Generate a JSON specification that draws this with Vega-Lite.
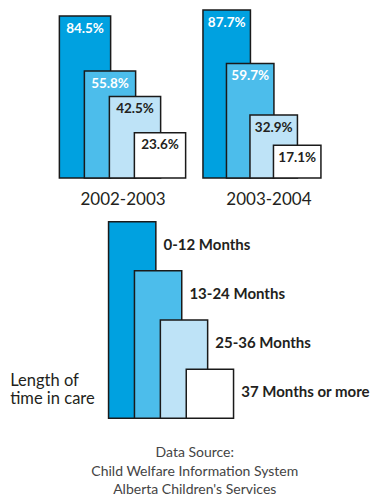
{
  "$schema": "https://vega.github.io/schema/vega-lite/v6.json",
  "padding": {"left": 9.5, "top": 0, "right": 2, "bottom": 2},
  "background": "white",
  "config": {"view": {"stroke": null}, "font": "Lato", "axis": {"grid": false}},
  "datasets": {
    "care": [
      {"period": "2002-2003", "length": "0-12 Months", "pct": 0.845},
      {"period": "2002-2003", "length": "13-24 Months", "pct": 0.558},
      {"period": "2002-2003", "length": "25-36 Months", "pct": 0.425},
      {"period": "2002-2003", "length": "37 Months or more", "pct": 0.236},
      {"period": "2003-2004", "length": "0-12 Months", "pct": 0.877},
      {"period": "2003-2004", "length": "13-24 Months", "pct": 0.597},
      {"period": "2003-2004", "length": "25-36 Months", "pct": 0.329},
      {"period": "2003-2004", "length": "37 Months or more", "pct": 0.171}
    ]
  },
  "title": {
    "text": ["Data Source:", "Child Welfare Information System", "Alberta Children's Services"],
    "orient": "bottom", "anchor": "middle", "fontSize": 14, "fontWeight": "normal",
    "font": "Lato", "color": "#444444", "lineHeight": 18.5, "offset": 27, "baseline": "top", "dx": 5
  },
  "spacing": 13.7,
  "vconcat": [
    {
      "bounds": "flush",
      "spacing": 42.45,
      "hconcat": [
        {
          "width": 100, "height": 178,
          "data": {"name": "care"},
          "transform": [{"filter": "datum.period === '2002-2003'"}],
          "encoding": {
            "x": {"field": "length", "type": "nominal", "sort": null,
              "scale": {"domain": ["0-12 Months", "13-24 Months", "25-36 Months", "37 Months or more"], "paddingInner": 0, "paddingOuter": 0},
              "axis": {"title": "2002-2003", "labels": false, "ticks": false, "domain": false, "titleFontSize": 17, "titleFontWeight": "normal", "titleColor": "#231f20", "titlePadding": 13, "titleFont": "Lato"}},
            "y": {"field": "pct", "type": "quantitative", "scale": {"domain": [0, 0.929], "nice": false}, "axis": null}
          },
          "layer": [
            {"mark": {"type": "bar", "width": {"band": 2.05}, "stroke": "#1a1a1a", "strokeWidth": 1.5},
             "encoding": {"color": {"field": "length", "type": "nominal", "scale": {"domain": ["0-12 Months", "13-24 Months", "25-36 Months", "37 Months or more"], "range": ["#00a1e0", "#4cbdeb", "#bee3f7", "#ffffff"]}, "legend": null}}},
            {"mark": {"type": "text", "dy": 16.7, "baseline": "alphabetic", "fontSize": 13.5, "fontWeight": "bold", "font": "Lato"},
             "encoding": {"text": {"field": "pct", "type": "quantitative", "format": ".1%"},
               "color": {"field": "length", "type": "nominal", "scale": {"domain": ["0-12 Months", "13-24 Months", "25-36 Months", "37 Months or more"], "range": ["#ffffff", "#ffffff", "#231f20", "#231f20"]}, "legend": null}}}
          ],
          "resolve": {"scale": {"color": "independent"}}
        },
        {
          "width": 94, "height": 178,
          "data": {"name": "care"},
          "transform": [{"filter": "datum.period === '2003-2004'"}],
          "encoding": {
            "x": {"field": "length", "type": "nominal", "sort": null,
              "scale": {"domain": ["0-12 Months", "13-24 Months", "25-36 Months", "37 Months or more"], "paddingInner": 0, "paddingOuter": 0},
              "axis": {"title": "2003-2004", "labels": false, "ticks": false, "domain": false, "titleFontSize": 17, "titleFontWeight": "normal", "titleColor": "#231f20", "titlePadding": 13, "titleFont": "Lato", "titleX": 53.5}},
            "y": {"field": "pct", "type": "quantitative", "scale": {"domain": [0, 0.929], "nice": false}, "axis": null}
          },
          "layer": [
            {"mark": {"type": "bar", "width": {"band": 2.02}, "stroke": "#1a1a1a", "strokeWidth": 1.5},
             "encoding": {"color": {"field": "length", "type": "nominal", "scale": {"domain": ["0-12 Months", "13-24 Months", "25-36 Months", "37 Months or more"], "range": ["#00a1e0", "#4cbdeb", "#bee3f7", "#ffffff"]}, "legend": null}}},
            {"mark": {"type": "text", "dy": 16.7, "baseline": "alphabetic", "fontSize": 13.5, "fontWeight": "bold", "font": "Lato"},
             "encoding": {"text": {"field": "pct", "type": "quantitative", "format": ".1%"},
               "color": {"field": "length", "type": "nominal", "scale": {"domain": ["0-12 Months", "13-24 Months", "25-36 Months", "37 Months or more"], "range": ["#ffffff", "#ffffff", "#231f20", "#231f20"]}, "legend": null}}}
          ],
          "resolve": {"scale": {"color": "independent"}}
        }
      ]
    },
    {
      "width": 151, "height": 196.6,
      "data": {"name": "care"},
      "transform": [{"filter": "datum.period === '2002-2003'"}, {"window": [{"op": "row_number", "as": "step"}]}],
      "encoding": {
        "x": {"field": "length", "type": "nominal", "sort": null,
          "scale": {"domain": ["0-12 Months", "13-24 Months", "25-36 Months", "37 Months or more"], "range": [46.75, 150.35], "paddingInner": 0, "paddingOuter": 0},
          "axis": null},
        "y": {"field": "step", "type": "quantitative",
          "scale": {"domain": [1, 5], "reverse": true, "nice": false, "zero": false},
          "axis": {"title": ["Length of", "time in care"], "titleAngle": 0, "titleAlign": "left", "titleBaseline": "alphabetic", "titleX": -62.8, "titleY": 163.3, "titleFontSize": 16.5, "titleFontWeight": "normal", "titleFont": "Lato", "titleColor": "#231f20", "titleLineHeight": 18.5, "labels": false, "ticks": false, "domain": false, "grid": false}}
      },
      "layer": [
        {"mark": {"type": "bar", "width": {"band": 1.826}, "stroke": "#1a1a1a", "strokeWidth": 1.5},
         "encoding": {"y2": {"datum": 5},
           "color": {"field": "length", "type": "nominal", "scale": {"domain": ["0-12 Months", "13-24 Months", "25-36 Months", "37 Months or more"], "range": ["#00a1e0", "#4cbdeb", "#bee3f7", "#ffffff"]}, "legend": null}}},
        {"mark": {"type": "text", "align": "left", "baseline": "alphabetic", "dx": 31.3, "dy": 28.3, "fontSize": 15, "fontWeight": "bold", "font": "Lato", "color": "#231f20"},
         "encoding": {"text": {"field": "length"}}}
      ]
    }
  ]
}
